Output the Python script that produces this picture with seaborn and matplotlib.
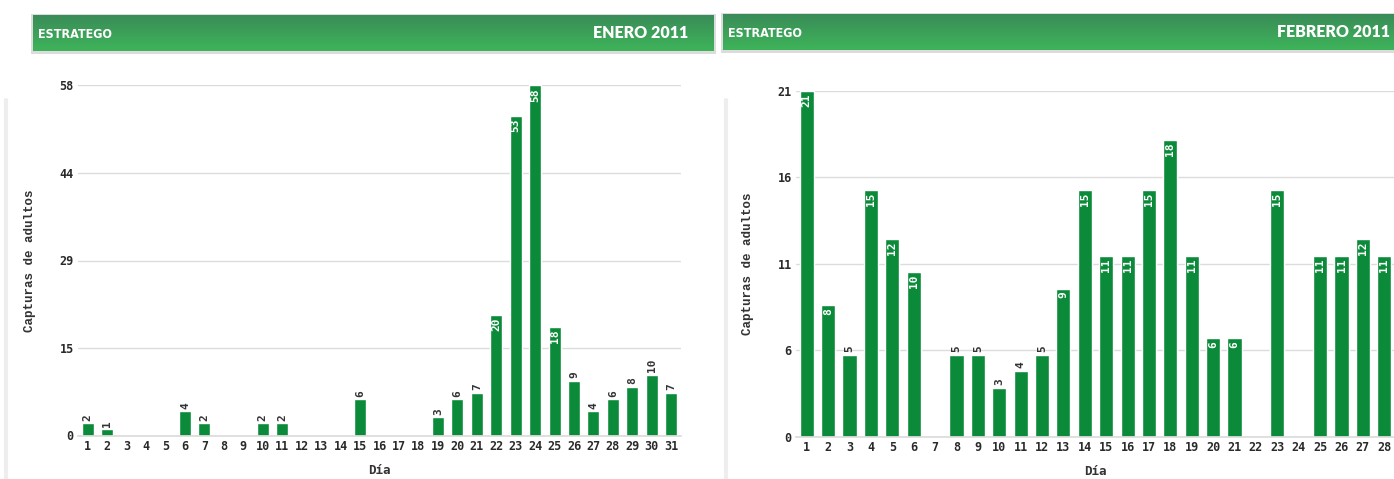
import numpy as np
import pandas as pd
import seaborn as sns
import matplotlib.pyplot as plt

# ---- data ----
jan_days = [str(d) for d in range(1, 32)]
jan_vals = [2, 1, 0, 0, 0, 4, 2, 0, 0, 2, 2, 0, 0, 0, 6, 0, 0, 0, 3, 6, 7,
            20, 53, 58, 18, 9, 4, 6, 8, 10, 7]
feb_days = [str(d) for d in range(1, 29)]
feb_vals = [21, 8, 5, 15, 12, 10, 0, 5, 5, 3, 4, 5, 9, 15, 11, 11, 15, 18,
            11, 6, 6, 0, 15, 0, 11, 11, 12, 11]
jan_yticklabels = ["0", "15", "29", "44", "58"]
feb_yticklabels = ["0", "6", "11", "16", "21"]
jan_title = "ENERO 2011"
feb_title = "FEBRERO 2011"
brand = "ESTRATEGO"
ylabel = "Capturas de adultos"
xlabel = "Día"

sns.set_theme(style="white")
plt.rcParams["font.family"] = ["DejaVu Sans"]

BAR = "#0b8b3a"
W, H = 1394, 479
fig = plt.figure(figsize=(W / 100, H / 100), dpi=100)


def px(x0, y0, x1, y1):
    return [x0 / W, 1 - y1 / H, (x1 - x0) / W, (y1 - y0) / H]


def header(x0, x1, y0, y1, title):
    # shadow
    sh = fig.add_axes(px(x0 - 2, y0 - 1, x1 + 2, y1 + 3))
    sh.set_axis_off()
    sh.imshow(np.ones((2, 2, 3)) * 0.78, aspect="auto", alpha=0.6)
    hax = fig.add_axes(px(x0, y0, x1, y1))
    hax.set_axis_off()
    top = np.array([0x3a, 0x8c, 0x58]) / 255
    bot = np.array([0x3e, 0xb4, 0x5a]) / 255
    t = np.linspace(0, 1, 64)[:, None]
    grad = top[None, :] * (1 - t) + bot[None, :] * t
    hax.imshow(grad[:, None, :], aspect="auto", extent=(0, 1, 0, 1))
    hax.set_xlim(0, 1)
    hax.set_ylim(0, 1)
    hax.text(5 / (x1 - x0), 0.47, brand, color="white", fontsize=9,
             fontweight="bold", fontstretch="condensed", va="center",
             ha="left", family="DejaVu Sans")
    return hax


def panel(rect, days, vals, yticklabels, width):
    ax = fig.add_axes(rect)
    df = pd.DataFrame({"dia": days, "val": vals})
    sns.barplot(data=df, x="dia", y="val", color=BAR, width=width,
                saturation=1, ax=ax, order=days)
    ymax = max(vals)
    ticks = np.linspace(0, ymax, 5)
    ax.set_ylim(0, ymax)
    ax.set_xlim(-0.5, len(days) - 0.5)
    ax.set_yticks(ticks)
    ax.set_yticklabels(yticklabels)
    ax.yaxis.grid(True, color="#dcdcdc", linewidth=1)
    ax.set_axisbelow(True)
    for s in ["top", "right", "left"]:
        ax.spines[s].set_visible(False)
    ax.spines["bottom"].set_color("#dcdcdc")
    ax.tick_params(axis="both", length=0, pad=3, labelsize=8.5,
                   colors="#2a2a2a")
    for lab in ax.get_xticklabels() + ax.get_yticklabels():
        lab.set_family("DejaVu Sans Mono")
        lab.set_fontweight("bold")
    ax.set_ylabel(ylabel, family="Liberation Mono", fontweight="bold",
                  fontsize=9, color="#333333", labelpad=17)
    ax.set_xlabel(xlabel, family="DejaVu Sans Mono", fontweight="bold",
                  fontsize=9, color="#333333", labelpad=8)
    for i, v in enumerate(vals):
        if v <= 0:
            continue
        if v / ymax > 0.26:
            ax.annotate(str(v), (i, v), xytext=(0, -2), textcoords="offset points",
                        rotation=90, ha="center", va="top", color="white",
                        fontsize=8, family="DejaVu Sans Mono", fontweight="bold")
        else:
            ax.annotate(str(v), (i, v), xytext=(0, 2), textcoords="offset points",
                        rotation=90, ha="center", va="bottom", color="#333333",
                        fontsize=8, family="DejaVu Sans Mono", fontweight="bold")
    return ax


# faint page edges
for xe in (6, 726):
    fig.add_artist(plt.Line2D([xe / W, xe / W], [0, 1 - 100 / H],
                              color="#eeeeee", linewidth=3))

h1 = header(33, 714, 15, 51, jan_title)
h1.text(1 - 26 / 681, 0.5, jan_title, color="white", fontsize=11.5,
        fontweight="heavy", va="center", ha="right", family="Lato")
h2 = header(723, 1400, 14, 50, feb_title)
h2.text(1 - 10 / 677, 0.5, feb_title, color="white", fontsize=11.5,
        fontweight="heavy", va="center", ha="right", family="Lato")

panel(px(78, 85.5, 681, 435.5), jan_days, jan_vals, jan_yticklabels, 0.62)
panel(px(796, 90.5, 1395, 437), feb_days, feb_vals, feb_yticklabels, 0.66)

fig.savefig("out.png", dpi=100)
